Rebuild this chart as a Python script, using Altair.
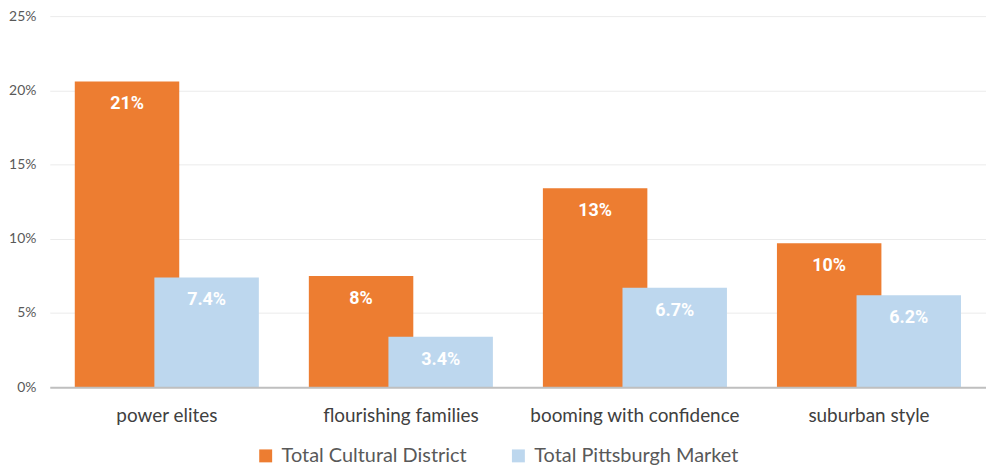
import altair as alt
import pandas as pd

categories = ["power elites", "flourishing families", "booming with confidence", "suburban style"]
cultural_district = [20.6, 7.5, 13.4, 9.7]
pittsburgh_market = [7.4, 3.4, 6.7, 6.2]
series_names = ["Total Cultural District", "Total Pittsburgh Market"]
series_colors = ["#ED7D31", "#BDD7EE"]
y_ticks = [0, 5, 10, 15, 20, 25]

df = pd.DataFrame({
    "category": categories * 2,
    "series": [series_names[0]] * len(categories) + [series_names[1]] * len(categories),
    "value": cultural_district + pittsburgh_market,
})

x = alt.X(
    "category:N", sort=categories,
    scale=alt.Scale(paddingInner=0, paddingOuter=0),
    axis=alt.Axis(title=None, labelAngle=0, labelFontSize=19, labelColor="#404040",
                  labelFont="Lato", labelBaseline="alphabetic", labelPadding=34,
                  ticks=False, domainColor="#BFBFBF", domainWidth=2, grid=False,
                  zindex=1, labelLimit=300),
)
y = alt.Y(
    "value:Q",
    scale=alt.Scale(domain=[0, 25], nice=False),
    axis=alt.Axis(title=None, values=y_ticks, labelExpr="datum.value + '%'",
                  labelFontSize=14, labelColor="#595959", labelFont="Lato",
                  labelPadding=14, ticks=False, domain=False,
                  gridColor="#EBEBEB", gridWidth=1),
)
color = alt.Color(
    "series:N",
    scale=alt.Scale(domain=series_names, range=series_colors),
    legend=alt.Legend(title=None, orient="none", direction="horizontal",
                      legendX=207, legendY=432, padding=0, symbolType="square",
                      symbolSize=169, symbolStrokeWidth=0, labelFontSize=20,
                      labelFont="Lato", labelColor="#595959", columnPadding=41,
                      labelOffset=6, labelLimit=400),
)

base = alt.Chart(df)
offsets = [-40, 40]
label_exprs = ["round(datum.value) + '%'", "format(datum.value, '.1f') + '%'"]

bar_layers = []
text_layers = []
for name, off, expr in zip(series_names, offsets, label_exprs):
    sub = base.transform_filter(alt.datum.series == name)
    bar_layers.append(
        sub.mark_bar(width=105, xOffset=off).encode(x=x, y=y, color=color)
    )
    text_layers.append(
        sub.transform_calculate(label=expr)
        .mark_text(xOffset=off, dy=23, baseline="middle", color="white",
                   fontSize=18, fontWeight="bold", font="Roboto")
        .encode(x=x, y=y, text="label:N")
    )

chart = alt.layer(*bar_layers, *text_layers).properties(
    width=941, height=373,
    autosize=alt.AutoSizeParams(type="none"),
    padding={"left": 42, "top": 7, "right": 0, "bottom": 80},
).configure_view(stroke=None)

chart.save("out.html", embed_options={"renderer": "svg", "actions": False})
